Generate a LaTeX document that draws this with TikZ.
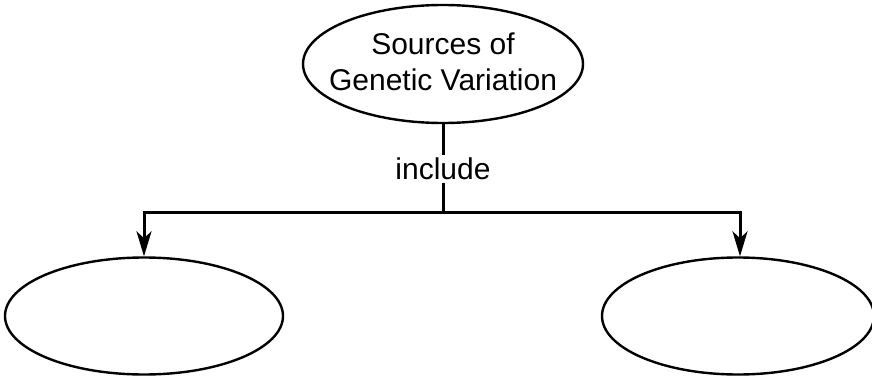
\documentclass[tikz,border=0pt]{standalone}
\usepackage{fontspec}
\setmainfont{Liberation Sans}
\usetikzlibrary{shapes.geometric,arrows.meta}
\tikzset{
  oval/.style={ellipse, draw, line width=2.4pt, inner sep=0pt},
  txt/.style={align=center, inner sep=0pt, font=\fontsize{30}{36}\selectfont},
  link/.style={line width=3pt},
  linkarrow/.style={link, -{Stealth[length=25pt, width=15pt, inset=7pt]}},
  lbl/.style={fill=white, inner sep=3pt, font=\fontsize{30}{36}\selectfont}
}
\begin{document}
\begin{tikzpicture}[x=1pt,y=-1pt]
  \useasboundingbox (0,0) rectangle (872,377);
  % concept ovals
  \node[oval, minimum width=280pt, minimum height=118pt] (src) at (443,64) {};
  \node[txt] (srctext) at (443,62) {Sources of\\Genetic Variation};
  \node[oval, minimum width=278pt, minimum height=117pt] (left) at (144,316) {};
  \node[oval, minimum width=272pt, minimum height=117pt] (right) at (738,316) {};
  % branching link
  \coordinate (j) at (443,212);
  \draw[link] (src.south) -- (j);
  \draw[linkarrow] (j) -| (left.north);
  \draw[linkarrow] (j) -| ([xshift=2pt]right.north);
  \node[lbl] (inc) at (443,169) {include};
\end{tikzpicture}
\end{document}
